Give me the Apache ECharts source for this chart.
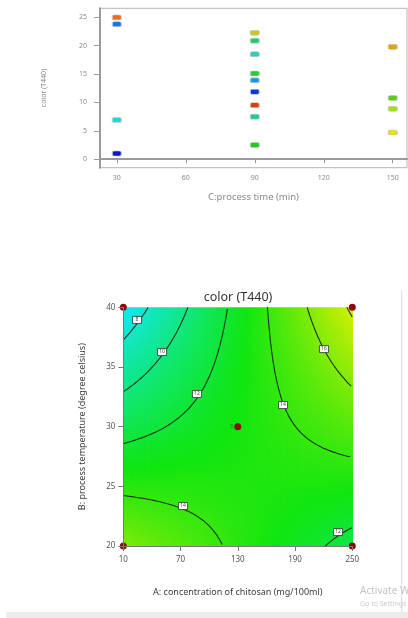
<!DOCTYPE html>
<html><head><meta charset="utf-8">
<script src="https://cdn.jsdelivr.net/npm/echarts@6/dist/echarts.min.js"></script>
<style>html,body{margin:0;padding:0;background:#fff}#c{width:408px;height:618px}</style>
</head><body><div id="c"></div>
<script>
// ---------- Top chart: color (T440) vs C: process time ----------
const timeTicks = [30, 60, 90, 120, 150];
const colorTicks = [0, 5, 10, 15, 20, 25];
const runTime  = [30, 30, 30, 30, 90, 90, 90, 90, 90, 90, 90, 90, 90, 150, 150, 150, 150];
const runColor = [25.0, 23.8, 6.9, 1.0, 22.3, 20.9, 18.5, 15.1, 13.9, 11.9, 9.5, 7.5, 2.5, 19.8, 10.8, 8.9, 4.7];
// marker fill colours (style only)
const runMarkerColors = ['#e8701e', '#1e74e0', '#1ed8dc', '#0a18d0',
  '#c8c81e', '#1ed066', '#24d0bc', '#24d034', '#149ce0', '#0a38d8', '#e0400c', '#14d098', '#24c824',
  '#e0a014', '#58d014', '#a0e014', '#e8e014'];

// ---------- Bottom chart: contour of color (T440) over A and B ----------
const concTicks = [10, 70, 130, 190, 250];
const tempTicks = [20, 25, 30, 35, 40];
// fitted surface in coded units: intercept, A, B, AB
const modelCoef = [13.11, 1.765, -0.6, 4.0];
const contourLevels = [8, 10, 12, 14, 16, 18];
const designA = [10, 10, 250, 250, 130];
const designB = [20, 40, 20, 40, 30];
const centerReplicates = 5;
const contourLabelA = [24.4, 50.6, 87.2, 177.4, 220.3, 72.6, 235];
const contourLabelB = [38.94, 36.25, 32.74, 31.81, 36.5, 23.35, 21.17];
const contourLabelLevel = [8, 10, 12, 14, 16, 14, 12];

const FONT = '"Noto Sans", "Open Sans", sans-serif';
const aMin = concTicks[0], aMax = concTicks[concTicks.length - 1];
const bMin = tempTicks[0], bMax = tempTicks[tempTicks.length - 1];
const aC = (aMin + aMax) / 2, aH = (aMax - aMin) / 2;
const bC = (bMin + bMax) / 2, bH = (bMax - bMin) / 2;

function modelAt(a, b) {
  return modelCoef[0] + modelCoef[1] * a + modelCoef[2] * b + modelCoef[3] * a * b;
}

// surface cells
const nA = 96, nB = 80;
const dA = (aMax - aMin) / nA, dB = (bMax - bMin) / nB;
const surface = [];
for (let i = 0; i < nA; i++) {
  for (let j = 0; j < nB; j++) {
    const A = aMin + dA * (i + 0.5), B = bMin + dB * (j + 0.5);
    surface.push([A, B, modelAt((A - aC) / aH, (B - bC) / bH)]);
  }
}

// contour branches (bilinear surface -> hyperbola branches)
function contourBranches(L) {
  const [c0, cA, cB, cAB] = modelCoef;
  const asym = -cB / cAB;
  const pts = [];
  const N = 500;
  for (let i = 0; i <= N; i++) {
    const a = -1 + 2 * i / N;
    const den = cB + cAB * a;
    if (Math.abs(den) > 1e-9) { const b = (L - c0 - cA * a) / den; if (b >= -1 && b <= 1) pts.push([a, b]); }
    const b2 = -1 + 2 * i / N;
    const den2 = cA + cAB * b2;
    if (Math.abs(den2) > 1e-9) { const a2 = (L - c0 - cB * b2) / den2; if (a2 >= -1 && a2 <= 1) pts.push([a2, b2]); }
  }
  const left = pts.filter(p => p[0] < asym).sort((p, q) => p[0] - q[0]);
  const right = pts.filter(p => p[0] > asym).sort((p, q) => p[0] - q[0]);
  return [left, right].filter(s => s.length > 1).map(s => s.map(p => [aC + aH * p[0], bC + bH * p[1]]));
}

const contourSeries = [];
contourLevels.forEach(L => {
  contourBranches(L).forEach(br => {
    contourSeries.push({
      type: 'line', xAxisIndex: 1, yAxisIndex: 1, data: br, showSymbol: false, symbol: 'none',
      smooth: false, silent: true, z: 3, animation: false,
      lineStyle: { color: '#16301a', width: 1.1 }
    });
  });
});

const chart = echarts.init(document.getElementById('c'), null, { renderer: 'canvas' });
chart.setOption({
  animation: false,
  backgroundColor: '#ffffff',
  textStyle: { fontFamily: FONT },
  title: {
    text: 'color (T440)', left: 238, top: 291, padding: 0, textAlign: 'center',
    textStyle: { fontSize: 12.5, fontWeight: 'normal', color: '#333', fontFamily: FONT }
  },
  grid: [
    { left: 100, top: 8.3, width: 307, height: 159.4, show: true, borderColor: '#b4b4b4', borderWidth: 1, backgroundColor: 'transparent' },
    { left: 123.3, top: 307.3, width: 229, height: 238.7, show: false }
  ],
  xAxis: [
    {
      gridIndex: 0, type: 'value', min: 22.7, max: 156.2,
      name: 'C:process time (min)', nameLocation: 'middle', nameGap: 25,
      nameTextStyle: { fontSize: 9.5, color: '#8a8a8a', fontFamily: FONT },
      axisLine: { show: true, lineStyle: { color: '#9a9a9a', width: 2 } },
      axisTick: { show: true, length: 4, customValues: timeTicks, lineStyle: { color: '#999' } },
      axisLabel: { customValues: timeTicks, fontSize: 7, color: '#8a8a8a', margin: 7, fontFamily: FONT },
      splitLine: { show: false }
    },
    {
      gridIndex: 1, type: 'value', min: aMin, max: aMax, z: 10,
      name: 'A: concentration of chitosan (mg/100ml)', nameLocation: 'middle', nameGap: 42,
      nameTextStyle: { fontSize: 9, color: '#3a3a3a', fontFamily: FONT },
      axisLine: { show: true, lineStyle: { color: '#777', width: 1 } },
      axisTick: { show: true, length: 5, customValues: concTicks, lineStyle: { color: '#777' } },
      axisLabel: { customValues: concTicks, fontSize: 8, color: '#555', margin: 10, fontFamily: FONT },
      splitLine: { show: false }
    }
  ],
  yAxis: [
    {
      gridIndex: 0, type: 'value', min: -1.5, max: 26.6,
      name: 'color (T440)', nameLocation: 'middle', nameGap: 53,
      nameTextStyle: { fontSize: 7, color: '#8a8a8a', fontFamily: FONT },
      axisLine: { show: true, lineStyle: { color: '#9a9a9a', width: 2 } },
      axisTick: { show: true, length: 6, customValues: colorTicks, lineStyle: { color: '#999' } },
      axisLabel: { customValues: colorTicks, fontSize: 7, color: '#8a8a8a', margin: 13, fontFamily: FONT },
      splitLine: { show: false }
    },
    {
      gridIndex: 1, type: 'value', min: bMin, max: bMax, z: 10,
      name: 'B: process temperature (degree celsius)', nameLocation: 'middle', nameGap: 36,
      nameTextStyle: { fontSize: 9, color: '#3a3a3a', fontFamily: FONT },
      axisLine: { show: true, lineStyle: { color: '#777', width: 1 } },
      axisTick: { show: true, length: 5, customValues: tempTicks, lineStyle: { color: '#777' } },
      axisLabel: { customValues: tempTicks, fontSize: 8, color: '#555', margin: 8, fontFamily: FONT },
      splitLine: { show: false }
    }
  ],
  visualMap: {
    show: false, type: 'continuous', min: 1, max: 25, dimension: 2, seriesIndex: 1,
    inRange: { color: ['#0000ff', '#10e8f0', '#10e610', '#f0f000', '#ff0000'] }
  },
  series: [
    {
      type: 'scatter', xAxisIndex: 0, yAxisIndex: 0, symbol: 'roundRect', symbolSize: [9, 5],
      data: runTime.map((t, i) => ({ value: [t, runColor[i]], itemStyle: { color: runMarkerColors[i] } })),
      itemStyle: { borderColor: '#c8c8c8', borderWidth: 0.8, opacity: 1 }, z: 5
    },
    {
      type: 'custom', xAxisIndex: 1, yAxisIndex: 1, clip: true, z: 1, silent: true,
      data: surface,
      renderItem: function (params, api) {
        const A = api.value(0), B = api.value(1);
        const p0 = api.coord([A - dA / 2, B + dB / 2]);
        const p1 = api.coord([A + dA / 2, B - dB / 2]);
        return {
          type: 'rect',
          shape: { x: p0[0], y: p0[1], width: p1[0] - p0[0] + 0.7, height: p1[1] - p0[1] + 0.7 },
          style: { fill: api.visual('color') }
        };
      }
    },
    ...contourSeries,
    {
      type: 'scatter', xAxisIndex: 1, yAxisIndex: 1, symbol: 'rect', symbolSize: [9, 7], z: 6, silent: true,
      itemStyle: { color: '#ffffff', borderColor: '#333', borderWidth: 0.8, opacity: 1 },
      label: { show: true, position: 'inside', formatter: p => String(p.value[2]), fontSize: 5, color: '#444', fontFamily: FONT },
      data: contourLabelA.map((a, i) => [a, contourLabelB[i], contourLabelLevel[i]])
    },
    {
      type: 'scatter', xAxisIndex: 1, yAxisIndex: 1, symbol: 'circle', symbolSize: 7, z: 8, clip: false,
      itemStyle: { color: '#8b0a0a', opacity: 1 },
      labelLayout: { hideOverlap: false },
      data: designA.map((a, i) => {
        const item = { value: [a, designB[i]] };
        if (a === aC && designB[i] === bC) {
          item.label = { show: true, position: 'left', distance: 1, formatter: String(centerReplicates), fontSize: 5.5, color: '#555' };
        }
        return item;
      })
    }
  ],
  graphic: [
    { type: 'rect', shape: { x: 401, y: 290, width: 1.2, height: 322 }, style: { fill: '#e2e2e2' }, silent: true },
    { type: 'rect', shape: { x: 6, y: 612, width: 402, height: 6 }, style: { fill: '#ececec' }, silent: true },
    { type: 'text', x: 360, y: 586, style: { text: 'Activate Windows', fill: '#c4c4c4', font: '10px ' + FONT }, silent: true },
    { type: 'text', x: 360, y: 600, style: { text: 'Go to Settings', fill: '#cccccc', font: '7px ' + FONT }, silent: true }
  ]
});
</script>
</body></html>
